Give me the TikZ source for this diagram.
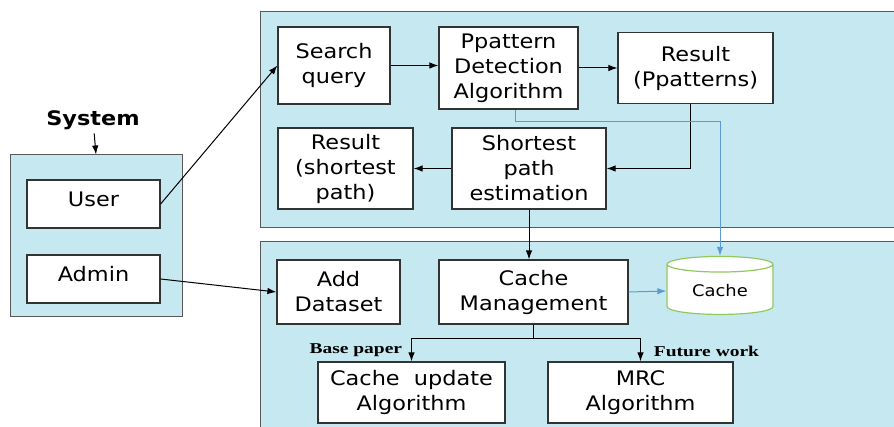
\documentclass[tikz,border=0pt]{standalone}
\usepackage{fontspec}
\newfontfamily\boxfont[FakeStretch=1.12]{DejaVu Sans}
\newfontfamily\notefont[FakeStretch=1.3]{Liberation Serif}
\usetikzlibrary{shapes.geometric, arrows, arrows.meta}
\definecolor{panelblue}{RGB}{198,233,241}
\definecolor{linkblue}{RGB}{91,155,213}
\definecolor{cachegreen}{RGB}{146,200,96}
\tikzstyle{panel} = [rectangle, draw=black!65, line width=1pt, fill=panelblue]
\tikzstyle{block} = [rectangle, draw=black!80, line width=1.2pt, fill=white, align=center, inner sep=2pt, font=\boxfont\fontsize{20}{25}\selectfont]
\tikzstyle{note} = [font=\notefont\bfseries\fontsize{15}{17}\selectfont]

\begin{document}
\begin{tikzpicture}[x=1pt, y=-1pt, >={Latex[length=9pt,width=6.5pt]}, line width=1pt]
        \useasboundingbox (0,0) rectangle (894,427);
        % the three shaded frames
        \node[panel, minimum width=636pt, minimum height=216pt] (toppanel) at (578,120) {};
        \node[panel, minimum width=636pt, minimum height=190pt] (botpanel) at (578,337) {};
        \node[panel, minimum width=172pt, minimum height=162pt] (syspanel) at (96,236) {};
        \node[font=\boxfont\bfseries\fontsize{20}{24}\selectfont] (syslabel) at (93,120) {System};

        % left frame
        \node[block, minimum width=133pt, minimum height=48pt, text depth=10pt] (user) at (93.5,204) {User};
        \node[block, minimum width=133pt, minimum height=48pt, text depth=10pt] (admin) at (93.5,279) {Admin};

        % top frame
        \node[block, minimum width=112pt, minimum height=77pt] (search) at (334,65.5) {Search\\query};
        \node[block, minimum width=139pt, minimum height=82pt] (ppat) at (508.5,68) {Ppattern\\Detection\\Algorithm};
        \node[block, minimum width=155pt, minimum height=71pt] (respat) at (695.5,68) {Result\\(Ppatterns)};
        \node[block, minimum width=135pt, minimum height=81pt] (respath) at (345.5,168.5) {Result\\(shortest\\path)};
        \node[block, minimum width=154pt, minimum height=81pt] (shortest) at (529,168.5) {Shortest\\path\\estimation};

        % bottom frame
        \node[block, minimum width=123pt, minimum height=64pt] (dataset) at (338.5,292) {Add\\Dataset};
        \node[block, minimum width=189pt, minimum height=64pt] (cachemgmt) at (533.5,292) {Cache\\Management};
        \node[cylinder, shape border rotate=90, aspect=0.25, draw=cachegreen, line width=1.2pt, fill=white, minimum width=106pt, minimum height=58pt, font=\boxfont\fontsize{16}{20}\selectfont] (cache) at (720,291) {Cache};
        \node[block, minimum width=187pt, minimum height=61pt] (cacheupd) at (411.5,392.5) {Cache~ update\\Algorithm};
        \node[block, minimum width=185pt, minimum height=61pt] (mrc) at (640.5,392.5) {MRC\\Algorithm};
        \node[note, anchor=east] (basenote) at (406,350) {Base paper};
        \node[note, anchor=west] (futnote) at (650,351) {Future work};

        \draw [->] (syslabel) -- (syspanel.north);
        \draw [->] (user.east) -- (search.west);
        \draw [->] (admin.east) -- (dataset.west);
        \draw [->] (search.east) -- (search.east -| ppat.west);
        \draw [->] (ppat.east) -- (respat.west);
        \draw [->] ([xshift=-5pt]respat.south) |- (shortest.east);
        \draw [->] (shortest.west) -- (respath.east);
        \draw [->] (shortest.south) -- (shortest.south |- cachemgmt.north);
        \draw [->, linkblue] ([xshift=7pt]ppat.south) -- ++(0,12) -| (cache.north);
        \draw [->, linkblue] (cachemgmt.east) -- (cache.west);
        \draw (cachemgmt.south) -- ++(0,14) coordinate (branch);
        \draw [->] (branch) -| (cacheupd.north);
        \draw [->] (branch) -| (mrc.north);
    \end{tikzpicture}
\end{document}
